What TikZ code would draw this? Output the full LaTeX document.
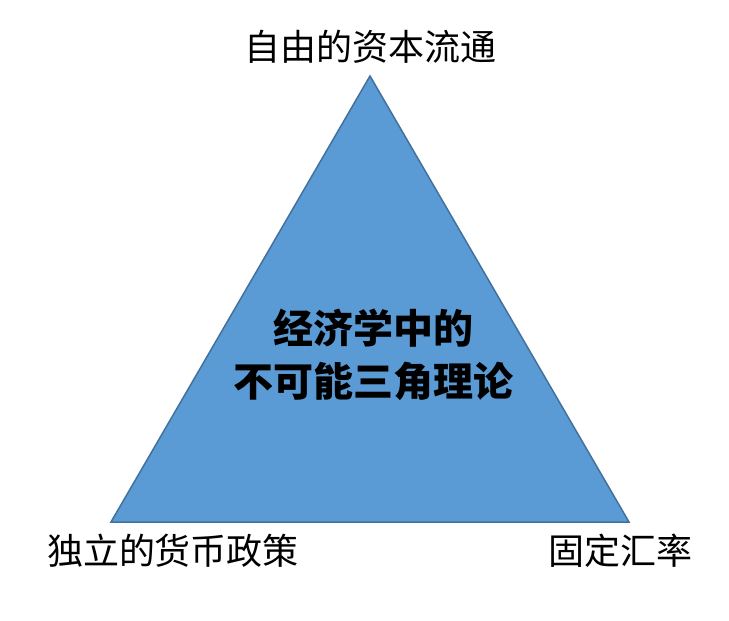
\documentclass[tikz,border=0pt]{standalone}
\usepackage{fontspec}
\newfontfamily\cjk{Noto Sans CJK SC}
\begin{document}
\begin{tikzpicture}[x=1pt,y=-1pt,
  lbl/.style={font=\cjk\fontsize{36}{42}\selectfont, inner sep=0pt, anchor=center},
  ctr/.style={font=\cjk\bfseries\fontsize{40}{53}\selectfont, inner sep=0pt, align=center}]
\useasboundingbox (0,0) rectangle (729,621);
\fill[white] (0,0) rectangle (729,621);
\coordinate (A) at (370,76);
\coordinate (B) at (111,522);
\coordinate (C) at (629,522);
\draw[fill={rgb,255:red,91;green,155;blue,213}, draw={rgb,255:red,65;green,113;blue,156}, line width=1.5pt, line join=miter] (A) -- (B) -- (C) -- cycle;
\node[lbl] (top) at (370,47) {自由的资本流通};
\node[lbl] (bl) at (173,551) {独立的货币政策};
\node[lbl] (br) at (620,551) {固定汇率};
\node[ctr] (mid) at (373,355) {经济学中的\\不可能三角理论};
\end{tikzpicture}
\end{document}
